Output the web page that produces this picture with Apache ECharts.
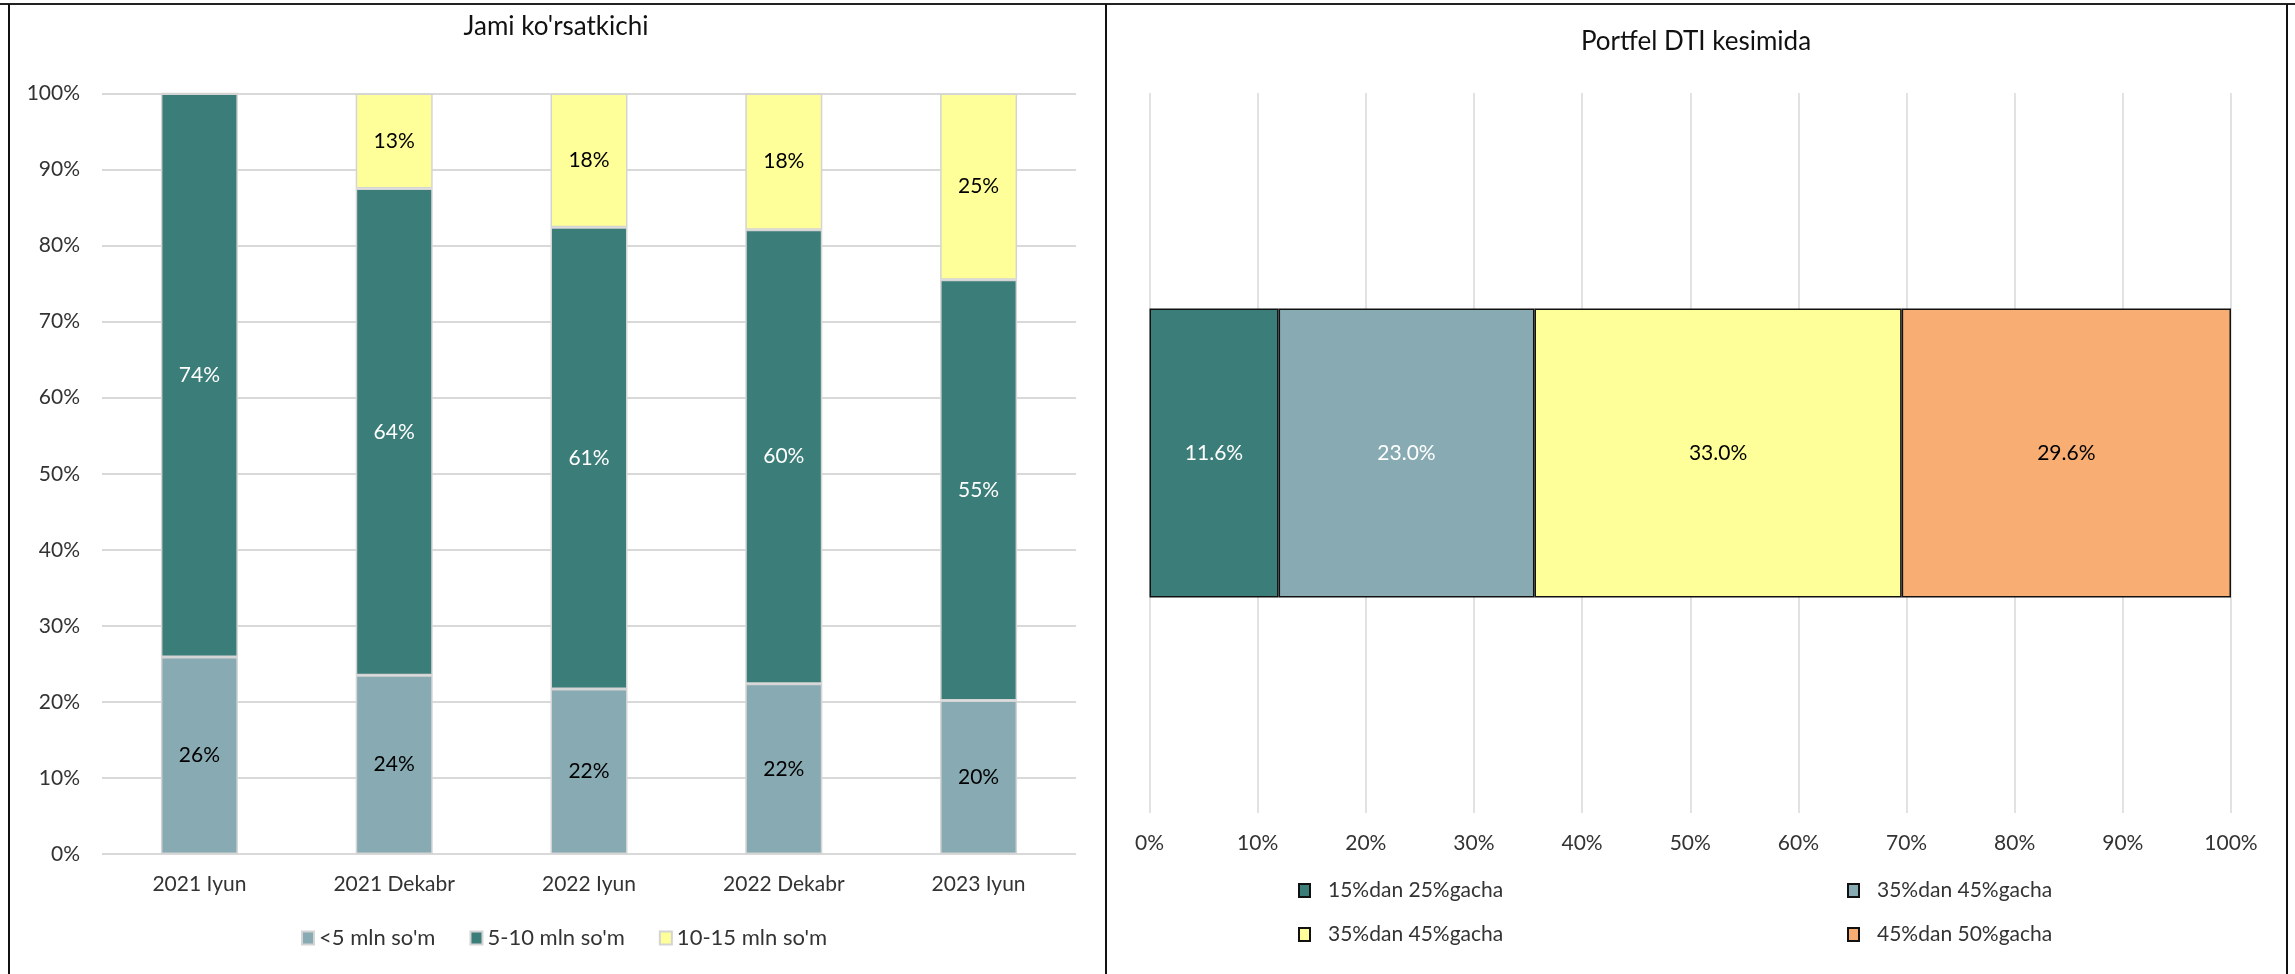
<!DOCTYPE html>
<html>
<head>
<meta charset="utf-8">
<script src="https://cdn.jsdelivr.net/npm/echarts@6/dist/echarts.min.js"></script>
<style>
  html, body { margin: 0; padding: 0; background: #fff; }
  #main { width: 2295px; height: 974px; }
</style>
</head>
<body>
<div id="main"></div>
<script>
// left chart data (shares, %)
var periods = ['2021 Iyun', '2021 Dekabr', '2022 Iyun', '2022 Dekabr', '2023 Iyun'];
var under5 = [25.9, 23.5, 21.7, 22.4, 20.2];
var from5to10 = [74.1, 64.0, 60.7, 59.7, 55.3];
var from10to15 = [0, 12.5, 17.6, 17.9, 24.5];
var sizeNames = ['<5 mln so\'m', '5-10 mln so\'m', '10-15 mln so\'m'];

// right chart data (raw values, %)
var dtiNames = ['15%dan 25%gacha', '35%dan 45%gacha', '35%dan 45%gacha', '45%dan 50%gacha'];
var dtiValues = [11.6, 23.0, 33.0, 29.6];

var font = 'Lato, "Open Sans", sans-serif';
var dark = '#3b7d78', light = '#88abb3', yellow = '#ffff99', orange = '#f8ae73';

var myChart = echarts.init(document.getElementById('main'));

function pct(p) {
    return p.value ? Math.round(p.value) + '%' : '';
}

var dtiTotal = dtiValues.reduce(function(a, b) { return a + b; }, 0);
var dtiColors = [dark, light, yellow, orange];
var dtiLabel = ['#fff', '#fff', '#000', '#000'];
var legendPos = [[1298, 880], [1847, 880], [1298, 924], [1847, 924]];

var option = {
    animation: false,
    textStyle: { fontFamily: font },
    title: [
        { text: 'Jami ko\'rsatkichi', left: 556, top: 14, textAlign: 'center', padding: 0,
          textStyle: { fontFamily: font, fontSize: 26, fontWeight: 'normal', color: '#111' } },
        { text: 'Portfel DTI kesimida', left: 1696, top: 29, textAlign: 'center', padding: 0,
          textStyle: { fontFamily: font, fontSize: 26, fontWeight: 'normal', color: '#111' } }
    ],
    graphic: [
        { type: 'line', shape: { x1: 0, y1: 4, x2: 2295, y2: 4 }, style: { stroke: '#222', lineWidth: 2 } },
        { type: 'line', shape: { x1: 9, y1: 4, x2: 9, y2: 974 }, style: { stroke: '#111', lineWidth: 2 } },
        { type: 'line', shape: { x1: 1106, y1: 4, x2: 1106, y2: 974 }, style: { stroke: '#111', lineWidth: 2 } },
        { type: 'line', shape: { x1: 2287, y1: 4, x2: 2287, y2: 974 }, style: { stroke: '#111', lineWidth: 2 } }
    ],
    legend: [
        {
            data: sizeNames, left: 301, top: 927, padding: 0,
            itemWidth: 12, itemHeight: 13, itemGap: 34, icon: 'rect',
            textStyle: { fontFamily: font, fontSize: 22, color: '#333' }
        }
    ],
    grid: [
        { left: 102, right: 1219, top: 93.5, bottom: 120 },
        { left: 1149.5, right: 64, top: 93, bottom: 161 }
    ],
    xAxis: [
        {
            type: 'category', gridIndex: 0, data: periods,
            axisLine: { show: false }, axisTick: { show: false },
            axisLabel: { margin: 20, fontSize: 21, color: '#333', fontFamily: font }
        },
        {
            type: 'value', gridIndex: 1, min: 0, max: 100, interval: 10,
            axisLine: { show: false }, axisTick: { show: false },
            axisLabel: { margin: 20, fontSize: 21, color: '#333', fontFamily: font, formatter: '{value}%' },
            splitLine: { lineStyle: { color: '#d9d9d9', width: 1.5 } }
        }
    ],
    yAxis: [
        {
            type: 'value', gridIndex: 0, min: 0, max: 100, interval: 10,
            axisLine: { show: false }, axisTick: { show: false },
            axisLabel: { margin: 22, fontSize: 21, color: '#333', fontFamily: font, formatter: '{value}%' },
            splitLine: { lineStyle: { color: '#d9d9d9', width: 2 } }
        },
        {
            type: 'category', gridIndex: 1, data: [''],
            axisLine: { show: false }, axisTick: { show: false }, axisLabel: { show: false }
        }
    ],
    series: [
        {
            name: sizeNames[0], type: 'bar', stack: 'a', data: under5, barWidth: 77,
            itemStyle: { color: light, borderColor: '#d4d4d4', borderWidth: 1.5 },
            label: { show: true, formatter: pct, fontSize: 21, color: '#000', fontFamily: font }
        },
        {
            name: sizeNames[1], type: 'bar', stack: 'a', data: from5to10, barWidth: 77,
            itemStyle: { color: dark, borderColor: '#d4d4d4', borderWidth: 1.5 },
            label: { show: true, formatter: pct, fontSize: 21, color: '#fff', fontFamily: font }
        },
        {
            name: sizeNames[2], type: 'bar', stack: 'a', data: from10to15, barWidth: 77,
            itemStyle: { color: yellow, borderColor: '#d4d4d4', borderWidth: 1.5 },
            label: { show: true, formatter: pct, fontSize: 21, color: '#000', fontFamily: font }
        }
    ]
};

dtiValues.forEach(function(v, i) {
    option.series.push({
        name: 'dti' + i, type: 'bar', stack: 'b', xAxisIndex: 1, yAxisIndex: 1,
        barWidth: 289,
        data: [v / dtiTotal * 100],
        itemStyle: { color: dtiColors[i], borderColor: '#111', borderWidth: 1.5 },
        label: {
            show: true, fontSize: 21, color: dtiLabel[i], fontFamily: font,
            formatter: function() { return v.toFixed(1) + '%'; }
        }
    });
    option.legend.push({
        data: ['dti' + i], left: legendPos[i][0], top: legendPos[i][1], padding: 0,
        itemWidth: 11, itemHeight: 13, icon: 'rect',
        formatter: function() { return dtiNames[i]; },
        textStyle: { fontFamily: font, fontSize: 21, color: '#333', padding: [0, 0, 0, 13] }
    });
});

myChart.setOption(option);
</script>
</body>
</html>
